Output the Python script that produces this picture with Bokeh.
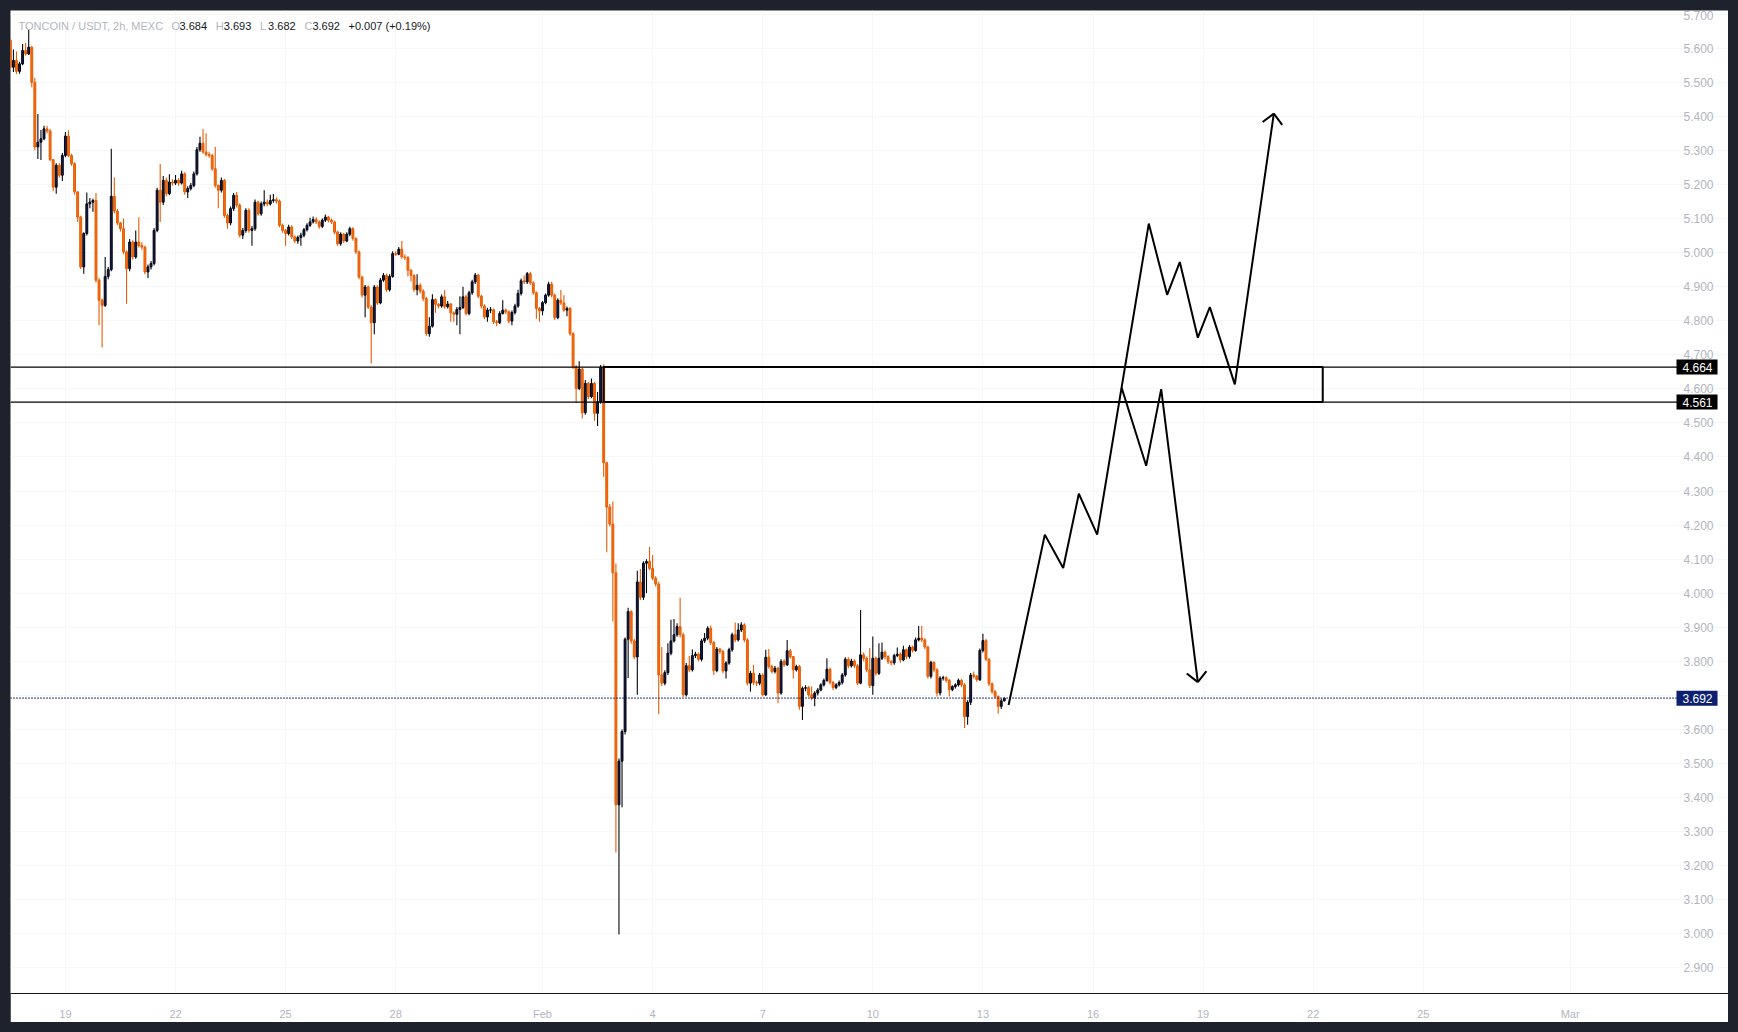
import math

from bokeh.embed import file_html
from bokeh.layouts import column
from bokeh.models import FixedTicker, Label
from bokeh.plotting import figure
from bokeh.resources import INLINE

# ---------------------------------------------------------------- data
# TONCOIN/USDT 2h candles, first bar opens Jan 17 12:00; x is measured in days from Feb 1 00:00
FIRST_BAR_DAY = -14.5
BAR_DAYS = 2 / 24
FIRST_OPEN = 5.623

close = [
    5.544, 5.564, 5.532, 5.554, 5.593, 5.583, 5.603, 5.500, 5.310, 5.324,
    5.334, 5.363, 5.357, 5.273, 5.192, 5.256, 5.227, 5.285, 5.342, 5.285,
    5.261, 5.178, 5.104, 4.958, 5.056, 5.143, 5.148, 5.153, 4.919, 4.860,
    4.845, 4.930, 4.950, 5.165, 5.122, 5.087, 5.070, 5.002, 4.953, 5.031,
    4.987, 5.031, 5.021, 5.016, 4.943, 4.958, 4.968, 5.065, 5.183, 5.148,
    5.212, 5.173, 5.207, 5.204, 5.212, 5.204, 5.231, 5.178, 5.188, 5.197,
    5.231, 5.302, 5.321, 5.295, 5.288, 5.285, 5.246, 5.197, 5.183, 5.212,
    5.109, 5.087, 5.129, 5.168, 5.139, 5.051, 5.065, 5.124, 5.065, 5.070,
    5.148, 5.114, 5.143, 5.148, 5.143, 5.153, 5.155, 5.151, 5.080, 5.065,
    5.056, 5.075, 5.046, 5.034, 5.044, 5.051, 5.067, 5.080, 5.090, 5.097,
    5.090, 5.077, 5.095, 5.104, 5.095, 5.090, 5.060, 5.026, 5.054, 5.034,
    5.054, 5.070, 5.041, 5.002, 4.928, 4.875, 4.899, 4.840, 4.794, 4.899,
    4.852, 4.919, 4.933, 4.891, 4.930, 4.997, 4.995, 5.010, 4.987, 4.985,
    4.948, 4.933, 4.891, 4.904, 4.887, 4.865, 4.762, 4.784, 4.862, 4.848,
    4.843, 4.870, 4.841, 4.849, 4.823, 4.819, 4.833, 4.839, 4.870, 4.821,
    4.882, 4.914, 4.934, 4.872, 4.843, 4.811, 4.831, 4.832, 4.797, 4.794,
    4.821, 4.831, 4.826, 4.799, 4.824, 4.843, 4.880, 4.917, 4.914, 4.938,
    4.911, 4.882, 4.836, 4.829, 4.853, 4.875, 4.907, 4.875, 4.809, 4.860,
    4.852, 4.831, 4.836, 4.762, 4.665, 4.601, 4.658, 4.530, 4.616, 4.577,
    4.616, 4.528, 4.562, 4.663, 4.383, 4.253, 4.203, 4.060, 3.379, 3.507,
    3.594, 3.865, 3.946, 3.860, 3.813, 4.033, 3.988, 4.088, 4.093, 4.073,
    4.044, 4.027, 3.760, 3.736, 3.767, 3.824, 3.860, 3.878, 3.902, 3.878,
    3.702, 3.787, 3.775, 3.817, 3.821, 3.806, 3.860, 3.868, 3.897, 3.855,
    3.773, 3.836, 3.829, 3.772, 3.795, 3.834, 3.878, 3.863, 3.892, 3.907,
    3.863, 3.736, 3.765, 3.738, 3.736, 3.760, 3.702, 3.812, 3.785, 3.770,
    3.780, 3.707, 3.800, 3.790, 3.831, 3.814, 3.775, 3.785, 3.668, 3.721,
    3.723, 3.702, 3.692, 3.707, 3.716, 3.731, 3.744, 3.777, 3.738, 3.723,
    3.731, 3.738, 3.760, 3.806, 3.787, 3.801, 3.787, 3.736, 3.819, 3.809,
    3.775, 3.729, 3.809, 3.765, 3.809, 3.827, 3.814, 3.799, 3.796, 3.817,
    3.821, 3.804, 3.834, 3.814, 3.842, 3.832, 3.863, 3.868, 3.863, 3.842,
    3.756, 3.797, 3.775, 3.707, 3.751, 3.752, 3.744, 3.717, 3.726, 3.731,
    3.744, 3.731, 3.638, 3.680, 3.760, 3.756, 3.746, 3.832, 3.861, 3.806,
    3.734, 3.711, 3.697, 3.668, 3.684, 3.692,
]

high = [
    5.630, 5.596, 5.590, 5.560, 5.612, 5.615, 5.654, 5.606, 5.513, 5.407,
    5.360, 5.372, 5.372, 5.362, 5.275, 5.262, 5.262, 5.292, 5.354, 5.359,
    5.290, 5.265, 5.180, 5.108, 5.060, 5.176, 5.160, 5.158, 5.175, 4.925,
    4.865, 4.987, 4.958, 5.305, 5.220, 5.128, 5.090, 5.100, 5.006, 5.040,
    5.036, 5.065, 5.104, 5.030, 5.020, 4.965, 4.975, 5.072, 5.190, 5.260,
    5.225, 5.220, 5.230, 5.215, 5.228, 5.218, 5.240, 5.236, 5.195, 5.204,
    5.238, 5.310, 5.340, 5.363, 5.350, 5.296, 5.290, 5.310, 5.200, 5.220,
    5.216, 5.115, 5.135, 5.175, 5.178, 5.145, 5.072, 5.130, 5.130, 5.078,
    5.156, 5.152, 5.150, 5.183, 5.156, 5.170, 5.172, 5.162, 5.156, 5.085,
    5.070, 5.082, 5.080, 5.050, 5.050, 5.058, 5.072, 5.086, 5.102, 5.106,
    5.104, 5.095, 5.100, 5.112, 5.108, 5.100, 5.094, 5.064, 5.060, 5.058,
    5.060, 5.076, 5.074, 5.045, 5.006, 4.932, 4.905, 4.904, 4.845, 4.905,
    4.904, 4.925, 4.940, 4.938, 4.936, 5.004, 5.004, 5.016, 5.034, 4.995,
    4.990, 4.952, 4.936, 4.936, 4.910, 4.892, 4.870, 4.810, 4.878, 4.866,
    4.852, 4.877, 4.890, 4.858, 4.852, 4.828, 4.840, 4.872, 4.900, 4.876,
    4.888, 4.920, 4.940, 4.938, 4.876, 4.848, 4.838, 4.840, 4.836, 4.802,
    4.828, 4.860, 4.836, 4.830, 4.830, 4.850, 4.891, 4.924, 4.933, 4.943,
    4.944, 4.916, 4.886, 4.840, 4.858, 4.880, 4.914, 4.914, 4.880, 4.866,
    4.890, 4.875, 4.842, 4.840, 4.766, 4.670, 4.681, 4.662, 4.626, 4.620,
    4.630, 4.620, 4.591, 4.670, 4.672, 4.386, 4.262, 4.269, 4.087, 3.515,
    3.600, 3.870, 3.957, 3.950, 3.866, 4.066, 4.071, 4.094, 4.100, 4.136,
    4.112, 4.050, 4.034, 3.842, 3.774, 3.853, 3.922, 3.924, 3.912, 3.987,
    3.884, 3.795, 3.816, 3.835, 3.828, 3.826, 3.866, 3.883, 3.903, 3.905,
    3.860, 3.842, 3.840, 3.834, 3.800, 3.840, 3.884, 3.914, 3.912, 3.915,
    3.912, 3.868, 3.772, 3.790, 3.744, 3.766, 3.764, 3.834, 3.836, 3.790,
    3.786, 3.784, 3.806, 3.806, 3.863, 3.836, 3.816, 3.790, 3.790, 3.726,
    3.730, 3.728, 3.726, 3.712, 3.722, 3.736, 3.750, 3.809, 3.782, 3.742,
    3.736, 3.744, 3.766, 3.812, 3.812, 3.808, 3.806, 3.792, 3.951, 3.826,
    3.814, 3.839, 3.873, 3.814, 3.853, 3.855, 3.832, 3.818, 3.804, 3.822,
    3.841, 3.826, 3.846, 3.838, 3.848, 3.846, 3.870, 3.904, 3.904, 3.868,
    3.846, 3.802, 3.800, 3.780, 3.756, 3.758, 3.756, 3.748, 3.730, 3.736,
    3.750, 3.748, 3.736, 3.686, 3.766, 3.770, 3.760, 3.838, 3.881, 3.866,
    3.810, 3.738, 3.716, 3.700, 3.690, 3.693,
]

low = [
    5.538, 5.530, 5.525, 5.525, 5.550, 5.578, 5.580, 5.485, 5.300, 5.275,
    5.272, 5.330, 5.350, 5.268, 5.180, 5.173, 5.220, 5.210, 5.280, 5.280,
    5.255, 5.170, 5.090, 4.952, 4.938, 5.050, 5.130, 5.120, 4.912, 4.787,
    4.721, 4.840, 4.922, 4.945, 5.115, 5.080, 5.062, 4.995, 4.850, 4.945,
    4.980, 4.982, 5.015, 5.008, 4.936, 4.925, 4.950, 4.962, 5.060, 5.090,
    5.140, 5.165, 5.168, 5.196, 5.198, 5.196, 5.200, 5.170, 5.160, 5.182,
    5.192, 5.226, 5.296, 5.290, 5.282, 5.278, 5.240, 5.190, 5.130, 5.176,
    5.102, 5.070, 5.080, 5.122, 5.132, 5.044, 5.040, 5.058, 5.058, 5.020,
    5.064, 5.108, 5.108, 5.136, 5.136, 5.138, 5.146, 5.144, 5.074, 5.058,
    5.020, 5.050, 5.040, 5.028, 5.026, 5.020, 5.045, 5.062, 5.075, 5.085,
    5.084, 5.070, 5.072, 5.090, 5.088, 5.084, 5.054, 5.020, 5.020, 5.028,
    5.030, 5.048, 5.035, 4.996, 4.922, 4.868, 4.810, 4.834, 4.674, 4.760,
    4.846, 4.848, 4.914, 4.885, 4.886, 4.926, 4.990, 4.992, 4.982, 4.978,
    4.930, 4.915, 4.885, 4.875, 4.880, 4.858, 4.756, 4.753, 4.780, 4.823,
    4.836, 4.838, 4.835, 4.836, 4.797, 4.797, 4.787, 4.760, 4.834, 4.815,
    4.816, 4.876, 4.908, 4.866, 4.836, 4.804, 4.797, 4.822, 4.790, 4.784,
    4.790, 4.818, 4.820, 4.792, 4.787, 4.818, 4.838, 4.874, 4.908, 4.908,
    4.905, 4.876, 4.806, 4.797, 4.816, 4.848, 4.870, 4.868, 4.802, 4.804,
    4.846, 4.826, 4.813, 4.756, 4.658, 4.559, 4.596, 4.513, 4.524, 4.570,
    4.572, 4.506, 4.491, 4.556, 4.342, 4.120, 4.196, 3.917, 3.239, 2.998,
    3.372, 3.585, 3.751, 3.852, 3.806, 3.702, 3.980, 3.980, 4.000, 4.068,
    4.038, 4.020, 3.645, 3.728, 3.730, 3.760, 3.818, 3.855, 3.872, 3.870,
    3.695, 3.697, 3.768, 3.770, 3.810, 3.800, 3.800, 3.854, 3.862, 3.848,
    3.760, 3.768, 3.822, 3.765, 3.750, 3.790, 3.828, 3.856, 3.858, 3.886,
    3.856, 3.729, 3.711, 3.730, 3.728, 3.730, 3.697, 3.698, 3.778, 3.764,
    3.764, 3.677, 3.702, 3.784, 3.786, 3.808, 3.750, 3.770, 3.658, 3.628,
    3.712, 3.696, 3.686, 3.668, 3.700, 3.712, 3.726, 3.740, 3.732, 3.716,
    3.718, 3.726, 3.732, 3.755, 3.780, 3.782, 3.780, 3.730, 3.733, 3.800,
    3.768, 3.722, 3.702, 3.758, 3.760, 3.804, 3.806, 3.792, 3.788, 3.790,
    3.812, 3.796, 3.800, 3.806, 3.808, 3.826, 3.828, 3.858, 3.856, 3.836,
    3.750, 3.750, 3.768, 3.697, 3.700, 3.744, 3.738, 3.697, 3.712, 3.720,
    3.726, 3.724, 3.604, 3.614, 3.672, 3.750, 3.740, 3.742, 3.826, 3.800,
    3.728, 3.705, 3.692, 3.646, 3.660, 3.682,
]

# time-scale ticks (days from Feb 1) and their labels
day_ticks = [-13, -10, -7, -4, 0, 3, 6, 9, 12, 15, 18, 21, 24, 28]
day_labels = ["19", "22", "25", "28", "Feb", "4", "7", "10", "13", "16", "19", "22", "25", "Mar"]

# price-scale ticks
price_ticks = [2.9, 3.0, 3.1, 3.2, 3.3, 3.4, 3.5, 3.6, 3.7, 3.8, 3.9, 4.0, 4.1, 4.2,
               4.3, 4.4, 4.5, 4.6, 4.7, 4.8, 4.9, 5.0, 5.1, 5.2, 5.3, 5.4, 5.5, 5.6, 5.7]

# resistance zone, drawn from the breakdown bar to Feb 22
zone_top = 4.664
zone_bottom = 4.561
zone_start_bar = 194
zone_end_day = 21.26

# projected paths (day, price)
bull_days = [12.70, 13.687, 14.188, 14.614, 15.114, 16.52, 17.02, 17.365, 17.856, 18.183, 18.864, 19.927]
bull_prices = [3.672, 4.172, 4.074, 4.292, 4.172, 5.085, 4.876, 4.972, 4.750, 4.840, 4.613, 5.408]
bear_days = [15.78, 16.449, 16.858, 17.856]
bear_prices = [4.603, 4.374, 4.599, 3.739]

# header readout
symbol_text = "TONCOIN / USDT, 2h, MEXC"
ohlc_names = ["O", "H", "L", "C"]
ohlc_values = ["3.684", "3.693", "3.682", "3.692"]
change_text = "+0.007 (+0.19%)"
last_price = 3.692

# ---------------------------------------------------------------- geometry
# the frame spans the whole white panel; the price scale occupies its right-most 50 px
FIG_W, FIG_H = 1718, 1012
SCALE_W, AXIS_BOTTOM = 50, 28
FRAME_W, FRAME_H = FIG_W, FIG_H - AXIS_BOTTOM
PX_PER_DAY = 36.7
PX_PER_PRICE = 341.0
X0 = -14.496
X1 = X0 + FRAME_W / PX_PER_DAY
X_SCALE = X0 + (FRAME_W - SCALE_W) / PX_PER_DAY   # left edge of the price scale
Y1 = 5.7106
Y0 = Y1 - FRAME_H / PX_PER_PRICE

UP_FILL, UP_LINE = "#141c50", "#05070f"
DN_FILL, DN_LINE = "#f56d0c", "#e65c04"
TEXT_GREY = "#b2b5be"
FONT = "Liberation Sans"

# ---------------------------------------------------------------- candles
opens = [FIRST_OPEN] + close[:-1]
bar_day = [FIRST_BAR_DAY + k * BAR_DAYS for k in range(len(close))]
rising = [c >= o for o, c in zip(opens, close)]

fig = figure(
    width=FIG_W, height=FIG_H,
    x_range=(X0, X1), y_range=(Y0, Y1),
    y_axis_location="right",
    output_backend="svg", toolbar_location=None,
    min_border_left=0, min_border_top=0,
    min_border_right=0, min_border_bottom=AXIS_BOTTOM,
    border_fill_color="white", background_fill_color="white",
    outline_line_color=None,
)

fig.segment(
    x0=bar_day, x1=bar_day, y0=low, y1=high,
    line_color=[UP_LINE if r else DN_LINE for r in rising], line_width=1.1,
)
fig.vbar(
    x=bar_day, width=BAR_DAYS * 0.62,
    top=[max(o, c) for o, c in zip(opens, close)],
    bottom=[min(o, c) for o, c in zip(opens, close)],
    fill_color=[UP_FILL if r else DN_FILL for r in rising],
    line_color=[UP_LINE if r else DN_LINE for r in rising],
    line_width=1,
)

# ---------------------------------------------------------------- levels
fig.segment(x0=[X0, X0], x1=[X_SCALE, X_SCALE], y0=[zone_top, zone_bottom],
            y1=[zone_top, zone_bottom], line_color="#000000", line_width=1.3)

zone_left = FIRST_BAR_DAY + zone_start_bar * BAR_DAYS
fig.quad(left=[zone_left], right=[zone_end_day], bottom=[zone_bottom], top=[zone_top],
         fill_color=None, line_color="#000000", line_width=2)

fig.segment(x0=[X0], x1=[X_SCALE], y0=[last_price], y1=[last_price],
            line_color="#0a1a66", line_width=1.6, line_dash="1 2")

# ---------------------------------------------------------------- projections
fig.line(bull_days, bull_prices, line_color="#000000", line_width=2)
fig.line(bear_days, bear_prices, line_color="#000000", line_width=2)


def head_arms(tail_d, tail_p, tip_d, tip_p, length=14.0, spread=45.0):
    dx = (tail_d - tip_d) * PX_PER_DAY
    dy = (tail_p - tip_p) * PX_PER_PRICE
    ang = math.atan2(dy, dx)
    ends = []
    for s in (1, -1):
        a = ang + s * math.radians(spread)
        ends.append((tip_d + length * math.cos(a) / PX_PER_DAY,
                     tip_p + length * math.sin(a) / PX_PER_PRICE))
    return ends


for ds, ps in ((bull_days, bull_prices), (bear_days, bear_prices)):
    arms = head_arms(ds[-2], ps[-2], ds[-1], ps[-1])
    fig.segment(x0=[ds[-1]] * 2, y0=[ps[-1]] * 2,
                x1=[a[0] for a in arms], y1=[a[1] for a in arms],
                line_color="#000000", line_width=2)

# ---------------------------------------------------------------- axes
fig.xaxis.ticker = FixedTicker(ticks=day_ticks)
fig.xaxis.major_label_overrides = {t: lab for t, lab in zip(day_ticks, day_labels)}
fig.xaxis.axis_line_color = "#131722"
fig.xaxis.major_tick_line_color = None
fig.xaxis.minor_tick_line_color = None
fig.xaxis.major_label_standoff = 8
fig.xaxis.major_label_text_color = TEXT_GREY
fig.xaxis.major_label_text_font = FONT
fig.xaxis.major_label_text_font_size = "11px"

# the price labels are pulled back into the scale column inside the frame
fig.yaxis.ticker = FixedTicker(ticks=price_ticks)
fig.yaxis.major_label_overrides = {t: f"{t:.3f}" for t in price_ticks}
fig.yaxis.axis_line_color = None
fig.yaxis.major_tick_line_color = None
fig.yaxis.minor_tick_line_color = None
fig.yaxis.major_tick_out = 0
fig.yaxis.major_tick_in = 0
fig.yaxis.major_label_standoff = -(SCALE_W - 5)
fig.yaxis.major_label_text_color = TEXT_GREY
fig.yaxis.major_label_text_font = FONT
fig.yaxis.major_label_text_font_size = "12px"

fig.xgrid.ticker = FixedTicker(ticks=day_ticks)
fig.ygrid.ticker = FixedTicker(ticks=price_ticks)
fig.grid.grid_line_color = "#f6f7f9"


# ---------------------------------------------------------------- price tags
def price_tag(lvl, bg):
    kw = dict(
        x=X_SCALE, y=lvl, text=f"{lvl:.3f}", x_offset=-2,
        text_align="left", text_baseline="middle",
        text_color="white", text_font=FONT, text_font_size="12px",
        background_fill_color=bg,
    )
    for pad in (dict(left=6, right=5, top=3, bottom=3), 4):
        try:
            return Label(padding=pad, **kw)
        except (ValueError, AttributeError, TypeError):
            continue
    return Label(**kw)


for lvl, bg in ((zone_top, "#000000"), (zone_bottom, "#000000"), (last_price, "#0d1f70")):
    fig.add_layout(price_tag(lvl, bg))


# ---------------------------------------------------------------- header
def header(text, offset, color):
    fig.add_layout(Label(
        x=X0, y=Y1, x_offset=offset, y_offset=-15, text=text,
        text_align="left", text_baseline="middle",
        text_color=color, text_font=FONT, text_font_size="11px",
    ))


header(symbol_text, 8, TEXT_GREY)
for k, (nm, val) in enumerate(zip(ohlc_names, ohlc_values)):
    base = 161 + k * 44.3
    header(nm, base, TEXT_GREY)
    header(val, base + 8, "#131722")
header(change_text, 338, "#131722")

p = column(fig, styles={"background-color": "#1e222d", "padding": "10px"})
open("out.html", "w").write(file_html(p, INLINE))
